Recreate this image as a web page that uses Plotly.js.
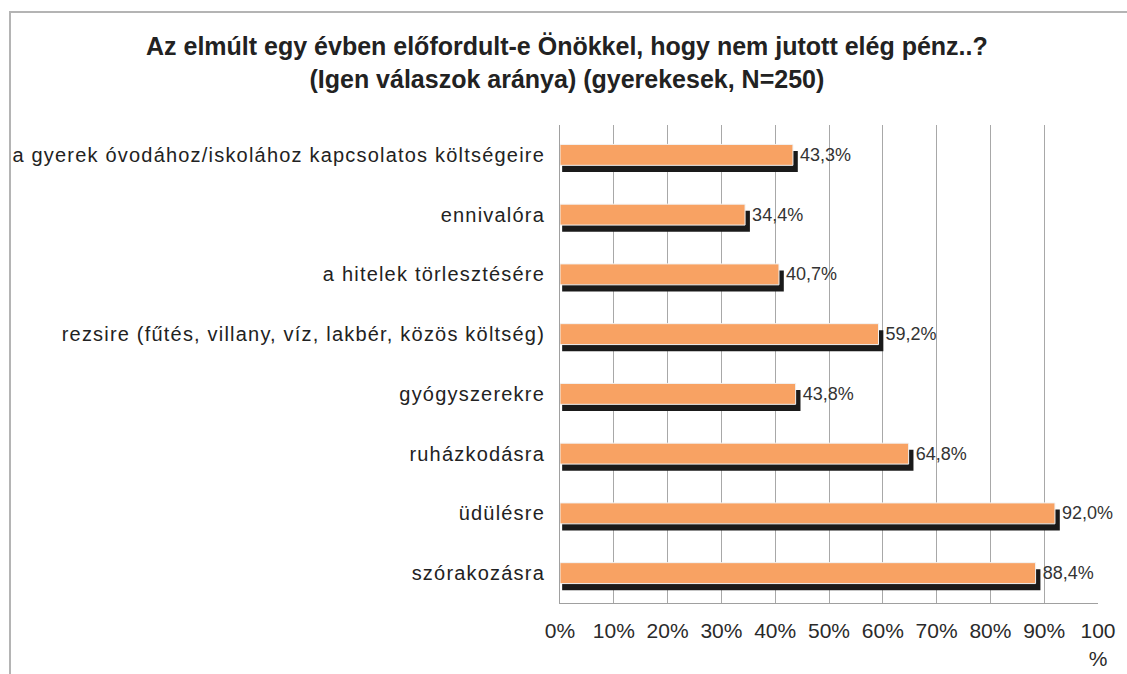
<!DOCTYPE html>
<html>
<head>
<meta charset="utf-8">
<script src="https://cdn.plot.ly/plotly-3.0.1.min.js"></script>
<style>
  html, body { margin: 0; padding: 0; background: #ffffff; }
  #wrap { position: relative; width: 1127px; height: 674px; }
  #chart { width: 1127px; height: 674px; }
  #frame { position: absolute; left: 9px; top: 11px; right: 0; bottom: 0;
           border-top: 2px solid #b4b4b4; border-left: 2px solid #b4b4b4;
           pointer-events: none; }
  #chart .ytick text { letter-spacing: 1.2px; }
</style>
</head>
<body>
<div id="wrap">
  <div id="chart"></div>
  <div id="frame"></div>
</div>
<script>
// ---- data ----
const categories = [
  "a gyerek óvodához/iskolához kapcsolatos költségeire",
  "ennivalóra",
  "a hitelek törlesztésére",
  "rezsire (fűtés, villany, víz, lakbér, közös költség)",
  "gyógyszerekre",
  "ruházkodásra",
  "üdülésre",
  "szórakozásra"
];
const values = [43.3, 34.4, 40.7, 59.2, 43.8, 64.8, 92.0, 88.4];
const tickValues = [0, 10, 20, 30, 40, 50, 60, 70, 80, 90, 100];
const tickLabels = ["0%", "10%", "20%", "30%", "40%", "50%", "60%", "70%", "80%", "90%", "100<br>%"];
const titleText = "Az elmúlt egy évben előfordult-e Önökkel, hogy nem jutott elég pénz..?<br>(Igen válaszok aránya) (gyerekesek, N=250)";

// ---- styling ----
const BAR_W = 0.35;
const SHADOW_DY = 0.11;
const labels = values.map(v => v.toFixed(1).replace('.', ',') + '%');
const shadowLen = values.map(v => v + 0.5);

const shadow = {
  type: 'bar', orientation: 'h',
  y: categories, x: shadowLen, base: 0.4,
  width: BAR_W, offset: -BAR_W / 2 + SHADOW_DY,
  marker: { color: '#1a1a1a', line: { width: 0 } },
  hoverinfo: 'skip', showlegend: false
};
const mainBars = {
  type: 'bar', orientation: 'h',
  y: categories, x: values,
  width: BAR_W, offset: -BAR_W / 2,
  marker: { color: '#F8A263', line: { color: '#f2f2f2', width: 1 } },
  showlegend: false
};
const textCarrier = {
  type: 'bar', orientation: 'h',
  y: categories, x: values, base: 0.75,
  width: BAR_W, offset: -BAR_W / 2,
  marker: { color: 'rgba(0,0,0,0)' },
  text: labels, textposition: 'outside', constraintext: 'none', cliponaxis: false,
  textfont: { family: 'Liberation Sans, Arial, sans-serif', size: 18, color: '#333333' },
  hoverinfo: 'skip', showlegend: false
};

const layout = {
  width: 1127, height: 674,
  margin: { l: 560, r: 29, t: 125, b: 71 },
  paper_bgcolor: '#ffffff', plot_bgcolor: '#ffffff',
  barmode: 'overlay',
  font: { family: 'Liberation Sans, Arial, sans-serif', color: '#222222' },
  title: {
    text: titleText,
    font: { family: 'Liberation Sans, Arial, sans-serif', size: 25, weight: 'bold', color: '#222222' },
    x: 0.503, xref: 'container', xanchor: 'center',
    y: 0.918, yref: 'container', yanchor: 'top'
  },
  xaxis: {
    range: [0, 100], tickvals: tickValues, ticktext: tickLabels,
    showgrid: true, gridcolor: '#a8a8a8', gridwidth: 1,
    showline: true, linecolor: '#a0a0a0', linewidth: 1,
    zeroline: false, ticks: '', ticklabelstandoff: 9,
    tickfont: { size: 21, color: '#2a2a2a' }, fixedrange: true
  },
  yaxis: {
    autorange: 'reversed', type: 'category',
    showgrid: false, showline: true, linecolor: '#a0a0a0', linewidth: 1,
    ticks: '', ticklabelstandoff: 10,
    tickfont: { size: 20, color: '#222222' }, fixedrange: true
  }
};

Plotly.newPlot('chart', [shadow, mainBars, textCarrier], layout, { displayModeBar: false, staticPlot: true });
</script>
</body>
</html>
